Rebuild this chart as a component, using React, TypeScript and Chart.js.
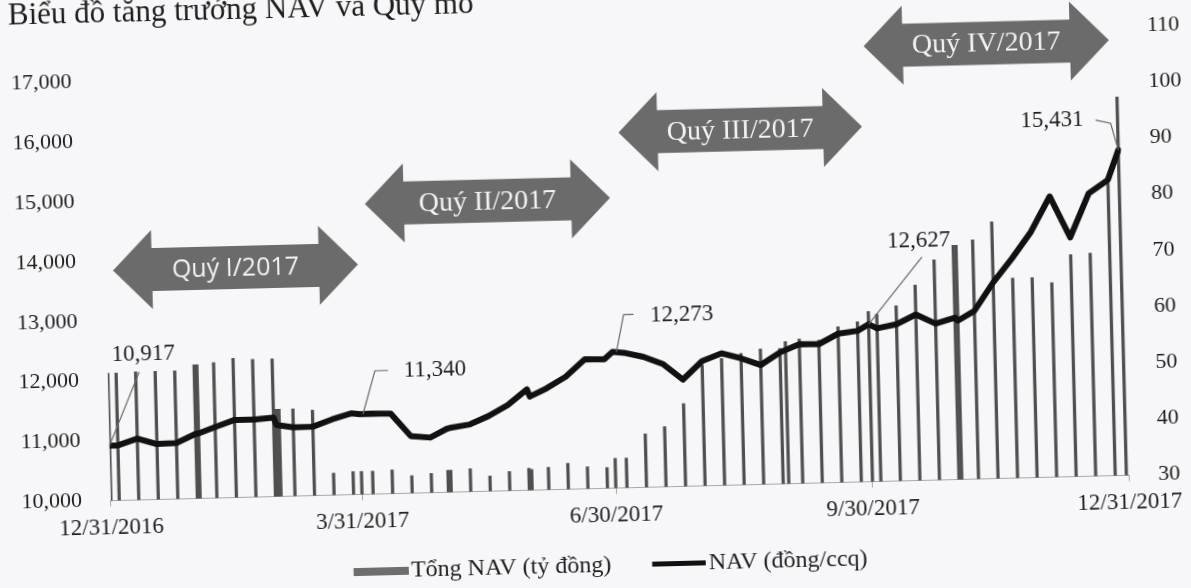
import React, { useEffect, useRef } from 'react';
import { Chart, registerables } from 'chart.js';

Chart.register(...registerables);

// ---- data (days since 12/31/2016) ----
const days = [0, 3, 10, 17, 24, 31, 32, 38, 45, 52, 59, 60, 61, 66, 73, 80, 87, 90, 94, 101, 108, 115, 121, 122, 129, 136, 143, 150, 151, 157, 164, 171, 178, 181, 185, 192, 199, 206, 213, 220, 227, 234, 241, 243, 248, 255, 262, 269, 273, 276, 283, 290, 297, 304, 305, 311, 318, 325, 332, 339, 346, 353, 360, 364];
const totalNav = [52.7, 52.7, 52.8, 52.8, 52.8, 53.8, 53.8, 54.1, 54.8, 54.5, 54.5, 45.5, 45.5, 45.5, 45.2, 33.9, 34.1, 34.1, 34.1, 34.2, 33.1, 33.4, 33.9, 33.9, 34.1, 32.7, 33.4, 33.9, 33.7, 34.0, 34.6, 33.9, 33.7, 35.3, 35.3, 39.5, 40.7, 44.7, 51.5, 52.6, 53.4, 54.1, 54.1, 55.3, 55.7, 55.4, 57.7, 58.5, 60.3, 59.8, 61.2, 64.8, 69.2, 71.7, 71.7, 72.6, 75.7, 65.6, 65.6, 64.6, 69.5, 69.7, 82.1, 97.4];
const navPerUnit = [10917, 10920, 11025, 10925, 10935, 11080, 11085, 11185, 11295, 11292, 11320, 11194, 11185, 11148, 11150, 11265, 11357, 11340, 11345, 11335, 10953, 10920, 11060, 11071, 11120, 11254, 11429, 11684, 11563, 11691, 11878, 12162, 12152, 12273, 12255, 12179, 12049, 11781, 12083, 12204, 12112, 11992, 12195, 12232, 12324, 12316, 12483, 12523, 12627, 12556, 12617, 12771, 12611, 12704, 12650, 12806, 13274, 13670, 14105, 14686, 13993, 14721, 14938, 15431];

const xTickDays = [0, 90, 181, 273, 365];
const xTickLabels = ['12/31/2016', '3/31/2017', '6/30/2017', '9/30/2017', '12/31/2017'];
const leftTicks = [10000, 11000, 12000, 13000, 14000, 15000, 16000, 17000];
const legendLabels = ['Tổng NAV (tỷ đồng)', 'NAV (đồng/ccq)'];
const titleText = 'Biểu đồ tăng trưởng NAV và Quy mô';

const quarterNames = ['Quý I/2017', 'Quý II/2017', 'Quý III/2017', 'Quý IV/2017'];
const quarterFrom = [2.8, 93.6, 185.1, 273.7];
const quarterTo = [90.6, 181.5, 272.4, 361.6];
const quarterLevel = [13840, 14843, 15930, 17270];

const labelledDays = [0, 90, 181, 273, 364];

// ---- layout / style (not data) ----
const W = 1241;
const H = 652;
const BG = '#f7f7f9';
const TEXT = '#1d1d1d';
const BAR = '#4f4f4f';
const LINE = '#111111';
const AXIS = '#a9a9a9';
const ARROW = '#6b6b6b';
const SERIF = '"Liberation Serif", "Times New Roman", serif';
const SANS = '"Open Sans", sans-serif';

const labelPlacement = [
  { tx: 36, ty: -91, leader: [[0, 0], [31.5, -73]] },
  { tx: 76, ty: -42, leader: [[3, 0], [16, -43], [29, -43]] },
  { tx: 70, ty: -35, leader: [[4, 0], [12, -37], [22, -37]] },
  { tx: 52, ty: -82, leader: [[0, 0], [55, -66]] },
  { tx: -65.5, ty: -31, leader: [[0, 0], [-7, -27], [-22, -30.5]] },
];
const arrowFonts = [`25px ${SANS}`, `28px ${SERIF}`, `28px ${SERIF}`, `28px ${SERIF}`];

const fmt = (v: number) => String(Math.round(v)).replace(/\B(?=(\d{3})+(?!\d))/g, ',');

const overlayPlugin = {
  id: 'overlay',
  beforeDraw(chart: any) {
    const ctx = chart.ctx;
    ctx.save();
    ctx.fillStyle = BG;
    ctx.fillRect(0, 0, chart.width, chart.height);
    ctx.restore();
  },
  afterDraw(chart: any) {
    const ctx = chart.ctx as CanvasRenderingContext2D;
    const xs = chart.scales.x;
    const ys = chart.scales.y;
    ctx.save();
    // title
    ctx.font = `31px ${SERIF}`;
    ctx.fillStyle = TEXT;
    ctx.textAlign = 'left';
    ctx.textBaseline = 'alphabetic';
    ctx.fillText(titleText, 40, 42);

    // quarter arrows
    const headLen = 39, headHalf = 39.5, shaftHalf = 21.5;
    quarterNames.forEach((name, i) => {
      const x1 = xs.getPixelForValue(quarterFrom[i]);
      const x2 = xs.getPixelForValue(quarterTo[i]);
      const yc = ys.getPixelForValue(quarterLevel[i]);
      ctx.beginPath();
      ctx.moveTo(x1, yc);
      ctx.lineTo(x1 + headLen, yc - headHalf);
      ctx.lineTo(x1 + headLen, yc - shaftHalf);
      ctx.lineTo(x2 - headLen, yc - shaftHalf);
      ctx.lineTo(x2 - headLen, yc - headHalf);
      ctx.lineTo(x2, yc);
      ctx.lineTo(x2 - headLen, yc + headHalf);
      ctx.lineTo(x2 - headLen, yc + shaftHalf);
      ctx.lineTo(x1 + headLen, yc + shaftHalf);
      ctx.lineTo(x1 + headLen, yc + headHalf);
      ctx.closePath();
      ctx.fillStyle = ARROW;
      ctx.fill();
      ctx.font = arrowFonts[i];
      ctx.fillStyle = '#f3f3f3';
      ctx.textAlign = 'center';
      ctx.textBaseline = 'middle';
      ctx.fillText(name, (x1 + x2) / 2, yc + 1);
    });

    // data labels with leader lines
    labelledDays.forEach((d, i) => {
      const idx = days.indexOf(d);
      const px = xs.getPixelForValue(d);
      const py = ys.getPixelForValue(navPerUnit[idx]);
      const p = labelPlacement[i];
      ctx.beginPath();
      p.leader.forEach(([dx, dy], k) => {
        if (k === 0) ctx.moveTo(px + dx, py + dy);
        else ctx.lineTo(px + dx, py + dy);
      });
      ctx.strokeStyle = '#6a6a6a';
      ctx.lineWidth = 1.2;
      ctx.stroke();
      ctx.font = `23px ${SERIF}`;
      ctx.fillStyle = TEXT;
      ctx.textAlign = 'center';
      ctx.textBaseline = 'middle';
      ctx.fillText(fmt(navPerUnit[idx]), px + p.tx, py + p.ty);
    });
    ctx.restore();
  },
};

export default function App() {
  const ref = useRef<HTMLCanvasElement | null>(null);

  useEffect(() => {
    if (!ref.current) return;
    // legend symbols: visible part sits at the right end of a wider transparent image
    const mk = (w: number, h: number, visible: number, color: string) => {
      const c = document.createElement('canvas');
      c.width = w;
      c.height = h;
      const g = c.getContext('2d')!;
      g.fillStyle = color;
      g.fillRect(w - visible, 0, visible, h);
      return c;
    };
    const barImg = mk(95, 8, 55, '#6e6e6e');
    const lineImg = mk(95, 5, 54, LINE);

    const chart = new Chart(ref.current, {
      type: 'bar',
      data: {
        datasets: [
          {
            type: 'bar',
            label: legendLabels[0],
            data: days.map((d, i) => ({ x: d, y: totalNav[i] })),
            yAxisID: 'y2',
            backgroundColor: BAR,
            barThickness: 2.6,
            order: 2,
          } as any,
          {
            type: 'line',
            label: legendLabels[1],
            data: days.map((d, i) => ({ x: d, y: navPerUnit[i] })),
            yAxisID: 'y',
            borderColor: LINE,
            backgroundColor: LINE,
            borderWidth: 6,
            pointRadius: 0,
            tension: 0,
            fill: false,
            borderJoinStyle: 'round',
            borderCapStyle: 'round',
            order: 1,
          } as any,
        ],
      },
      options: {
        responsive: false,
        animation: false,
        events: [],
        layout: { padding: { left: 0, right: 14, top: 71.2, bottom: 32.1 } },
        plugins: {
          tooltip: { enabled: false },
          title: { display: false },
          legend: {
            position: 'bottom',
            labels: {
              usePointStyle: true,
              pointStyleWidth: 76,
              padding: 9.5,
              color: TEXT,
              font: { family: SERIF, size: 24 },
              generateLabels: () => [
                { text: legendLabels[0], pointStyle: barImg, fillStyle: BAR, strokeStyle: BAR, lineWidth: 0, hidden: false, datasetIndex: 0, fontColor: TEXT },
                { text: legendLabels[1], pointStyle: lineImg, fillStyle: LINE, strokeStyle: LINE, lineWidth: 0, hidden: false, datasetIndex: 1, fontColor: TEXT },
              ] as any,
            },
          } as any,
        },
        scales: {
          x: {
            type: 'linear',
            min: 0,
            max: 365,
            offset: false,
            afterBuildTicks: (s: any) => { s.ticks = xTickDays.map((v) => ({ value: v })); },
            afterFit: (s: any) => { s.height = 55.9; },
            ticks: {
              autoSkip: false,
              maxRotation: 0,
              padding: 7.7,
              color: TEXT,
              font: { family: SERIF, size: 23 },
              callback: (v: any) => { const i = xTickDays.indexOf(Number(v)); return i >= 0 ? xTickLabels[i] : ''; },
            },
            grid: { display: true, drawOnChartArea: false, drawTicks: true, tickLength: 6, color: AXIS, offset: false },
            border: { display: true, color: AXIS, width: 1 },
          } as any,
          y: {
            type: 'linear',
            position: 'left',
            min: 10000,
            max: 17500,
            afterBuildTicks: (s: any) => { s.ticks = leftTicks.map((v) => ({ value: v })); },
            afterFit: (s: any) => { s.width = 130.9; },
            ticks: {
              padding: 28.9,
              color: TEXT,
              font: { family: SERIF, size: 22 },
              callback: (v: any) => fmt(Number(v)),
            },
            grid: { display: false, drawTicks: false },
            border: { display: false },
          } as any,
          y2: {
            type: 'linear',
            position: 'right',
            min: 30,
            max: 110,
            afterFit: (s: any) => { s.width = 77.5; },
            ticks: {
              stepSize: 10,
              padding: 29.1,
              color: TEXT,
              font: { family: SERIF, size: 22 },
            },
            grid: { display: false, drawTicks: false },
            border: { display: false },
          } as any,
        },
      },
      plugins: [overlayPlugin as any],
    });
    return () => chart.destroy();
  }, []);

  return (
    <div style={{ position: 'fixed', left: 0, top: 0, width: 1191, height: 588, overflow: 'hidden', background: BG }}>
      <canvas
        ref={ref}
        width={W}
        height={H}
        style={{
          position: 'absolute',
          left: -25,
          top: -32,
          width: W,
          height: H,
          transform: 'rotate(-1.43deg)',
          transformOrigin: '50% 50%',
        }}
      />
    </div>
  );
}
